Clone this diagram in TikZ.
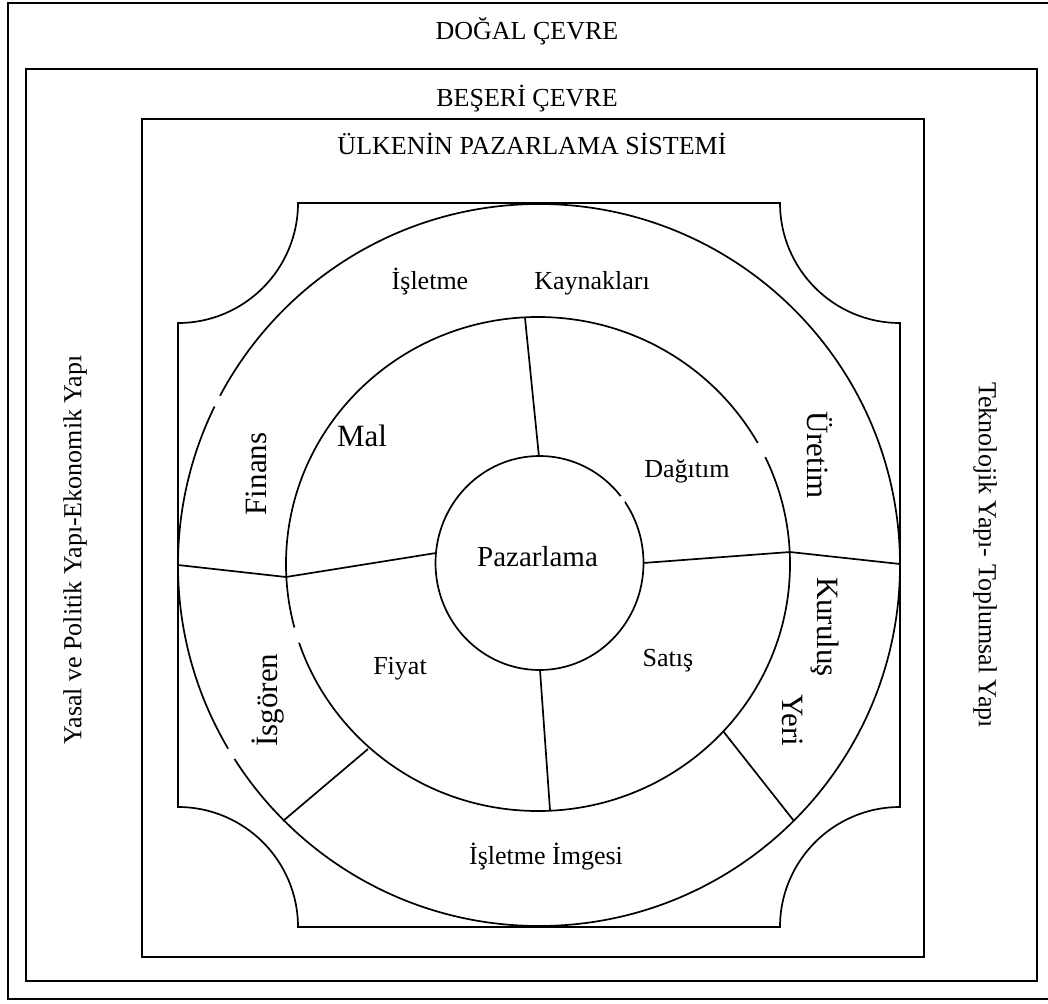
\documentclass[tikz,border=0pt]{standalone}
\usepackage{fontspec}
\setmainfont{Liberation Serif}
\begin{document}
\begin{tikzpicture}[x=1pt,y=-1pt,line width=1.7pt,line join=miter,
  txt/.style={inner sep=0pt,font=\fontsize{26}{30}\selectfont},
  txtb/.style={inner sep=0pt,font=\fontsize{31}{36}\selectfont},
  txtm/.style={inner sep=0pt,font=\fontsize{29}{34}\selectfont},
  gap/.style={fill=white,draw=none}]
\useasboundingbox (0,0) rectangle (1048,1003);
\clip (0,0) rectangle (1048,1003);
% frames
\draw (8,3) rectangle (1056,999);
\draw (26,69) rectangle (1037,981);
\draw (142,119) rectangle (924,957);
% inner shape with concave corners
\draw (298,203) -- (780,203) arc[start angle=180,end angle=90,radius=120]
  -- (900,807) arc[start angle=270,end angle=180,radius=120]
  -- (298,927) arc[start angle=0,end angle=-90,radius=120]
  -- (178,323) arc[start angle=90,end angle=0,radius=120] -- cycle;
% circles
\draw (539,565) circle[radius=361];
\draw (538,564) circle[x radius=252,y radius=247];
\draw (539.5,563) circle[x radius=104,y radius=107];
% small gaps in the rings
\path[gap] (217,401) circle[radius=6];
\path[gap] (231,754) circle[radius=6];
\path[gap] (297,635) circle[radius=8];
\path[gap] (761.5,450) circle[radius=8];
\path[gap] (621.5,500) circle[radius=4];
% division points
\coordinate (it) at (539,457);
\coordinate (mt) at (525,318);
\coordinate (il) at (436,553);
\coordinate (ml) at (286,577);
\coordinate (bl) at (178,565);
\coordinate (ir) at (643,563);
\coordinate (mr) at (790,552);
\coordinate (br) at (900,564);
\coordinate (ib) at (540,670);
\coordinate (mb) at (550,810);
\coordinate (mll) at (368,749);
\coordinate (bll) at (283,821);
\coordinate (mlr) at (723,731);
\coordinate (blr) at (794,821);
\draw (it) -- (mt);
\draw (il) -- (ml) -- (bl);
\draw (ir) -- (mr) -- (br);
\draw (ib) -- (mb);
\draw (mll) -- (bll);
\draw (mlr) -- (blr);
% texts
\node[txt,anchor=base] (dogal) at (527,40) {DOĞAL ÇEVRE};
\node[txt,anchor=base] (beseri) at (527,107) {BEŞERİ ÇEVRE};
\node[txt,anchor=base] (ulke) at (532,155) {ÜLKENİN PAZARLAMA SİSTEMİ};
\node[txt,anchor=base] (isl) at (430,289) {İşletme};
\node[txt,anchor=base] (kay) at (592,289) {Kaynakları};
\node[txtb,rotate=90] (fin) at (256,474) {Finans};
\node[txtb,anchor=base] (mal) at (362,446) {Mal};
\node[txt,anchor=base] (dag) at (687,477) {Dağıtım};
\node[txtm,anchor=base] (paz) at (537.5,566) {Pazarlama};
\node[txtb,rotate=-90] (ure) at (820,455) {Üretim};
\node[txtb,rotate=-90] (kur) at (825,627) {Kuruluş};
\node[txtb,rotate=-90] (yer) at (793,720) {Yeri};
\node[txtb,rotate=90] (isg) at (268,700) {İsgören};
\node[txt,anchor=base] (fiy) at (400,674) {Fiyat};
\node[txt,anchor=base] (sat) at (668,666) {Satış};
\node[txt,anchor=base] (img) at (546,864) {İşletme İmgesi};
\node[txt,rotate=90] (yasal) at (75,550) {Yasal ve Politik Yapı-Ekonomik Yapı};
\node[txt,rotate=-90] (tekno) at (985,555) {Teknolojik Yapı- Toplumsal Yapı};
\end{tikzpicture}
\end{document}
